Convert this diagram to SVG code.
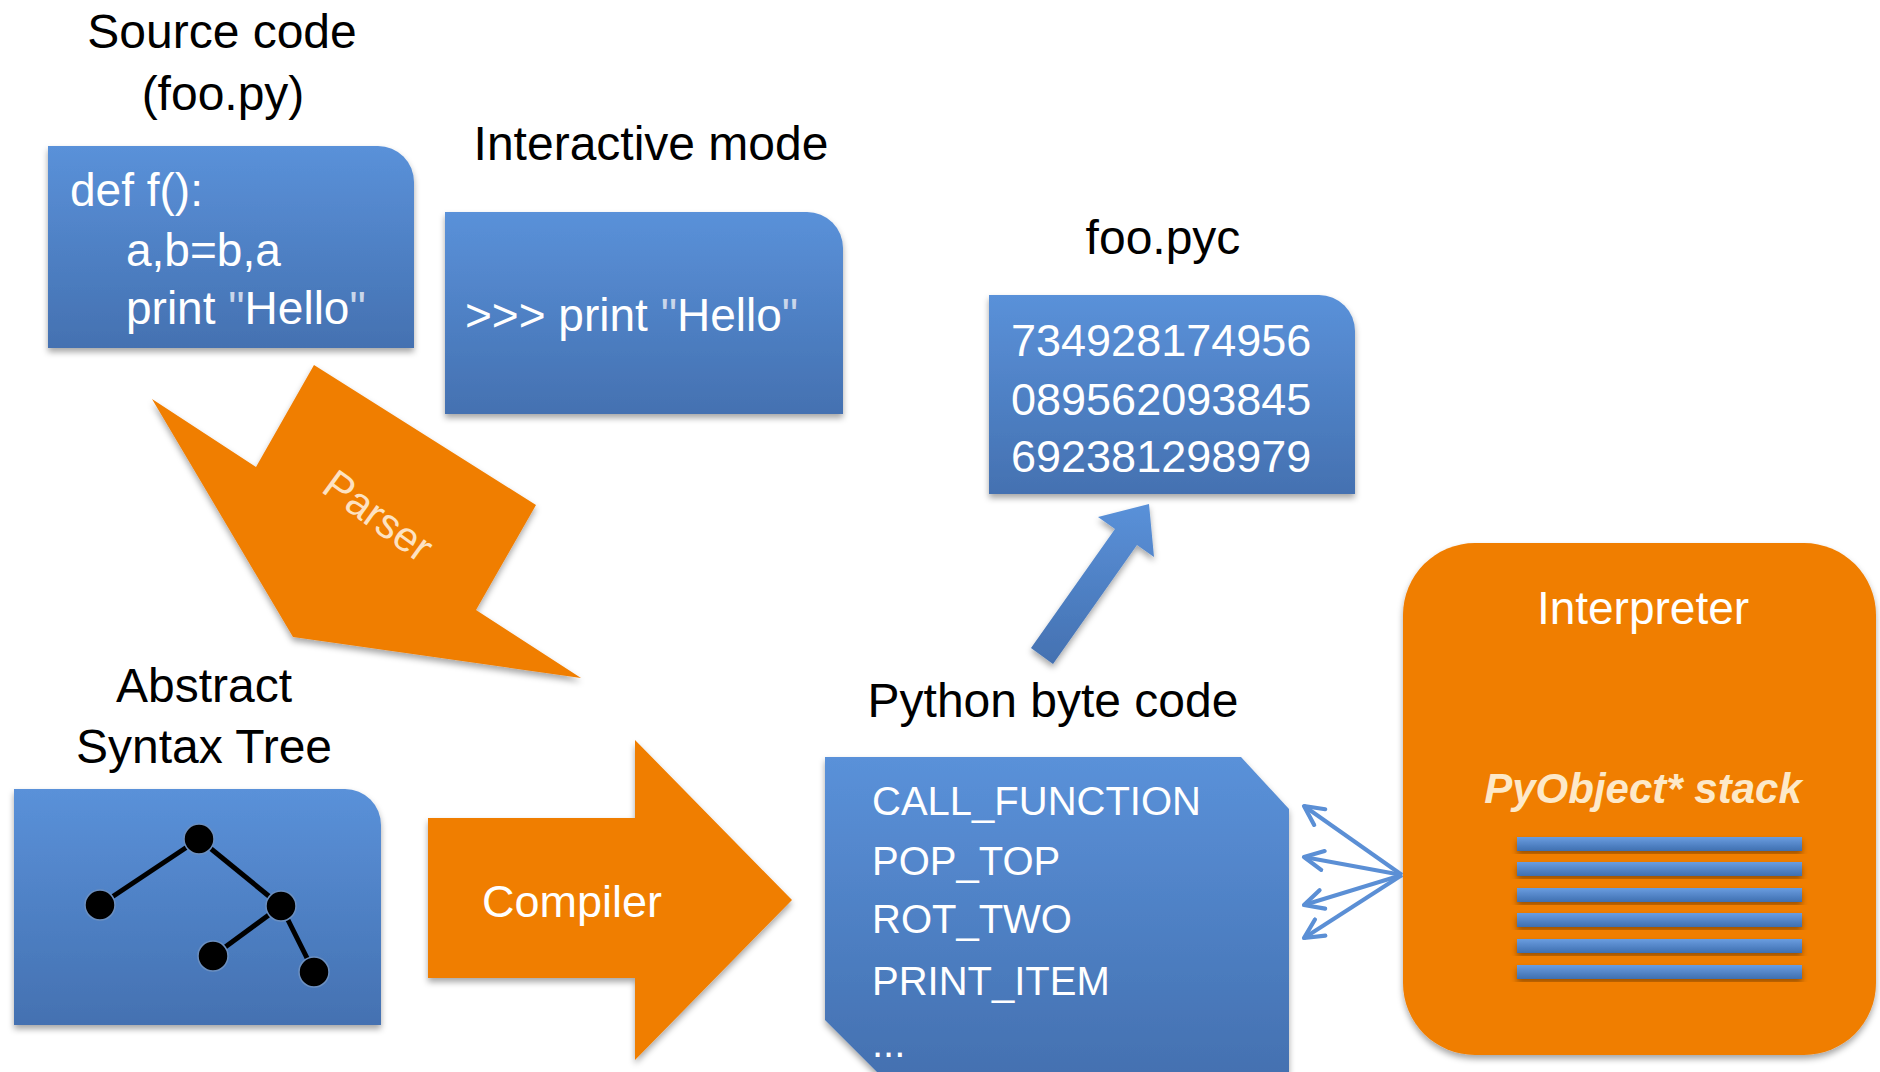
<svg xmlns="http://www.w3.org/2000/svg" width="1880" height="1072" viewBox="0 0 1880 1072">
<defs>
  <linearGradient id="blueGrad" x1="0" y1="0" x2="0" y2="1">
    <stop offset="0" stop-color="#5a91d9"/>
    <stop offset="1" stop-color="#4471b1"/>
  </linearGradient>
  <linearGradient id="barGrad" x1="0" y1="0" x2="0" y2="1">
    <stop offset="0" stop-color="#6a9de0"/>
    <stop offset="1" stop-color="#3f6fb0"/>
  </linearGradient>
  <filter id="shadow" x="-10%" y="-10%" width="120%" height="130%">
    <feDropShadow dx="0" dy="4" stdDeviation="3" flood-color="#000" flood-opacity="0.35"/>
  </filter>
  <marker id="openHead" viewBox="0 0 20 20" refX="18" refY="10" markerWidth="6" markerHeight="6" markerUnits="strokeWidth" orient="auto">
    <path d="M2,2 L18,10 L2,18" fill="none" stroke="#5b8fd5" stroke-width="3.5" stroke-linecap="round" stroke-linejoin="round"/>
  </marker>
  <style>
    .title { font-family: "Liberation Sans", Arial, sans-serif; font-size: 48px; fill: #000; }
    .code { font-family: "Liberation Sans", Arial, sans-serif; font-size: 46px; fill: #fff; }
    .ops { font-family: "Liberation Sans", Arial, sans-serif; font-size: 40px; fill: #fff; }
    .blue { fill: url(#blueGrad); filter: url(#shadow); }
    .orange { fill: #f07e06; filter: url(#shadow); }
    .q { fill: #c9d6ea; }
    .fan { stroke: #5b8fd5; stroke-width: 4; fill: none; marker-end: url(#openHead); }
    .bar { fill: url(#barGrad); filter: url(#shadow); }
  </style>
</defs>
<rect width="1880" height="1072" fill="#ffffff"/>

<g id="source-code">
  <text class="title" x="222" y="48" text-anchor="middle">Source code</text>
  <text class="title" x="223" y="110" text-anchor="middle">(foo.py)</text>
  <path class="blue" d="M48,146 H378 A36,36 0 0 1 414,182 V348 H48 Z"/>
  <text class="code" x="70" y="206">def f():</text>
  <text class="code" x="126" y="266">a,b=b,a</text>
  <text class="code" x="126" y="324">print <tspan class="q">"</tspan>Hello<tspan class="q">"</tspan></text>
</g>

<g id="interactive-mode">
  <text class="title" x="651" y="160" text-anchor="middle">Interactive mode</text>
  <path class="blue" d="M445,212 H807 A36,36 0 0 1 843,248 V414 H445 Z"/>
  <text class="code" x="465" y="331">&gt;&gt;&gt; print <tspan class="q">"</tspan>Hello<tspan class="q">"</tspan></text>
</g>

<g id="foo-pyc">
  <text class="title" x="1163" y="254" text-anchor="middle">foo.pyc</text>
  <path class="blue" d="M989,295 H1319 A36,36 0 0 1 1355,331 V494 H989 Z"/>
  <text class="code" x="1011" y="356" style="font-size:45px">734928174956</text>
  <text class="code" x="1011" y="415" style="font-size:45px">089562093845</text>
  <text class="code" x="1011" y="472" style="font-size:45px">692381298979</text>
</g>

<g id="parser">
  <polygon class="orange" points="152,399 256,467 314,365 536,505 476,610 581,678 293,637"/>
  <text x="378" y="530" text-anchor="middle" transform="rotate(36 378 516)" style="font-family:'Liberation Sans', Arial, sans-serif; font-size:42px; fill:#fde2c2">Parser</text>
</g>

<g id="ast">
  <text class="title" x="204" y="702" text-anchor="middle">Abstract</text>
  <text class="title" x="204" y="763" text-anchor="middle">Syntax Tree</text>
  <path class="blue" d="M14,789 H345 A36,36 0 0 1 381,825 V1025 H14 Z"/>
  <g stroke="#000" stroke-width="5">
    <line x1="199" y1="839" x2="100" y2="905"/>
    <line x1="199" y1="839" x2="281" y2="906"/>
    <line x1="281" y1="906" x2="213" y2="956"/>
    <line x1="281" y1="906" x2="314" y2="972"/>
  </g>
  <g fill="#000" stroke="#6b8fc0" stroke-width="1.5">
    <circle cx="199" cy="839" r="15"/>
    <circle cx="100" cy="905" r="15"/>
    <circle cx="281" cy="906" r="15"/>
    <circle cx="213" cy="956" r="15"/>
    <circle cx="314" cy="972" r="15"/>
  </g>
</g>

<g id="compiler">
  <polygon class="orange" points="428,818 635,818 635,740 792,900 635,1060 635,978 428,978"/>
  <text x="572" y="917" text-anchor="middle" style="font-family:'Liberation Sans', Arial, sans-serif; font-size:45px; fill:#fff">Compiler</text>
</g>

<g id="python-byte-code">
  <text class="title" x="1053" y="717" text-anchor="middle">Python byte code</text>
  <path class="blue" d="M825,757 H1241 L1289,809 V1072 H877 L825,1020 Z"/>
  <text class="ops" x="872" y="815">CALL_FUNCTION</text>
  <text class="ops" x="872" y="875">POP_TOP</text>
  <text class="ops" x="872" y="933">ROT_TWO</text>
  <text class="ops" x="872" y="995">PRINT_ITEM</text>
  <text class="ops" x="872" y="1057">...</text>
</g>

<g id="interpreter">
  <rect class="orange" x="1403" y="543" width="473" height="512" rx="72" ry="72"/>
  <text x="1643" y="624" text-anchor="middle" style="font-family:'Liberation Sans', Arial, sans-serif; font-size:46px; fill:#fff">Interpreter</text>
  <text x="1643" y="803" text-anchor="middle" style="font-family:'Liberation Sans', Arial, sans-serif; font-size:42px; font-style:italic; font-weight:bold; fill:#fde9c9">PyObject* stack</text>
  <rect class="bar" x="1517" y="837" width="285" height="14"/>
  <rect class="bar" x="1517" y="862" width="285" height="14"/>
  <rect class="bar" x="1517" y="888" width="285" height="14"/>
  <rect class="bar" x="1517" y="913" width="285" height="14"/>
  <rect class="bar" x="1517" y="939" width="285" height="14"/>
  <rect class="bar" x="1517" y="965" width="285" height="14"/>
</g>

<g id="connectors">
  <polygon class="blue" points="1031,648 1115,529 1098,517 1149,504 1154,557 1137,545 1053,664"/>
  <line class="fan" x1="1402" y1="875" x2="1304" y2="806"/>
  <line class="fan" x1="1402" y1="875" x2="1304" y2="857"/>
  <line class="fan" x1="1402" y1="875" x2="1304" y2="905"/>
  <line class="fan" x1="1402" y1="875" x2="1304" y2="938"/>
</g>
</svg>
